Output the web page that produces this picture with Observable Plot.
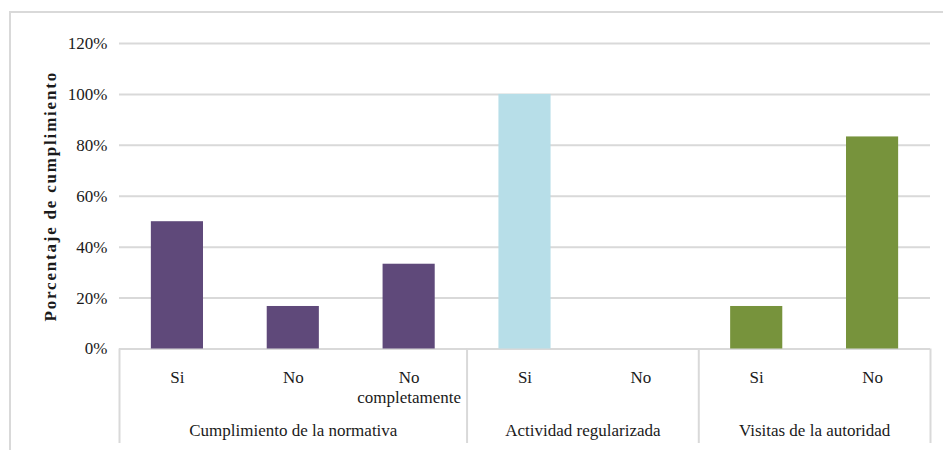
<!DOCTYPE html>
<html><head><meta charset="utf-8">
<script src="https://cdn.jsdelivr.net/npm/d3@7"></script>
<script src="https://cdn.jsdelivr.net/npm/@observablehq/plot@0.6"></script>
<style>
html,body{margin:0;padding:0;background:#fff;overflow:hidden;}
#wrap{position:relative;width:943px;height:450px;overflow:hidden;}
#frame{position:absolute;left:9px;top:11px;width:960px;height:460px;border-top:2px solid #d9d9d9;border-left:2px solid #d9d9d9;pointer-events:none;}
#chart svg, #chart svg text{font-family:"Liberation Serif","Times New Roman",serif !important;}
#chart svg{font-size:17px;background:transparent !important;}
g[font-weight="bold"] text{letter-spacing:1.8px;}
</style></head><body><div id="wrap"><div id="chart"></div><div id="frame"></div></div>
<script>
const groups = ["Cumplimiento de la normativa", "Actividad regularizada", "Visitas de la autoridad"];
const groupOfBar = [0, 0, 0, 1, 1, 2, 2];
const labels = ["Si", "No", "No\ncompletamente", "Si", "No", "Si", "No"];
const values = [0.50, 0.167, 0.333, 1.00, 0.0, 0.167, 0.833];
const groupColors = ["#5F497A", "#B7DEE8", "#77933C"];
const yTicks = [0, 0.2, 0.4, 0.6, 0.8, 1.0, 1.2];
const yTitle = "Porcentaje de cumplimiento";

const bars = labels.map((label, i) => ({i, label, value: values[i], group: groups[groupOfBar[i]]}));
const groupRows = groups.map(g => {
  const idx = bars.filter(b => b.group === g).map(b => b.i);
  return {group: g, mid: d3.mean(idx), start: d3.min(idx) - 0.5, end: d3.max(idx) + 0.5};
});
const boundaries = [...new Set(groupRows.flatMap(r => [r.start, r.end]))];
const half = 0.225;
const grid = "#d9d9d9";

const chart = Plot.plot({
  width: 943,
  height: 450,
  marginLeft: 119,
  marginRight: 13,
  marginTop: 43,
  marginBottom: 101.5,
  style: {fontFamily: "Liberation Serif", fontSize: "17px", color: "#1a1a1a", background: "transparent"},
  x: {domain: [-0.5, labels.length - 0.5], axis: null},
  y: {domain: [0, 1.2], axis: null},
  color: {domain: groups, range: groupColors},
  marks: [
    Plot.ruleY(yTicks, {y: d => d, stroke: grid, strokeWidth: 2}),
    Plot.axisY(yTicks, {tickFormat: d3.format(".0%"), tickSize: 0, tickPadding: 12, label: null, fontSize: 17}),
    Plot.rectY(bars, {x1: d => d.i - half, x2: d => d.i + half, y: "value", fill: "group"}),
    Plot.ruleX(boundaries, {x: d => d, y1: 0, y2: 0, insetBottom: -94.5, stroke: grid, strokeWidth: 2}),
    Plot.text(bars, {x: "i", text: "label", frameAnchor: "bottom", lineAnchor: "top", dy: 19.5, lineHeight: 1.2, fill: "#1a1a1a"}),
    Plot.text(groupRows, {x: "mid", text: "group", frameAnchor: "bottom", lineAnchor: "top", dy: 74.5, fill: "#1a1a1a"}),
    Plot.text([yTitle], {text: d => d, frameAnchor: "left", textAnchor: "middle", lineAnchor: "middle", rotate: -90, dx: -69, fontWeight: "bold", fontSize: 17, fill: "#1a1a1a"})
  ]
});
document.getElementById("chart").appendChild(chart);
</script>
</body></html>
